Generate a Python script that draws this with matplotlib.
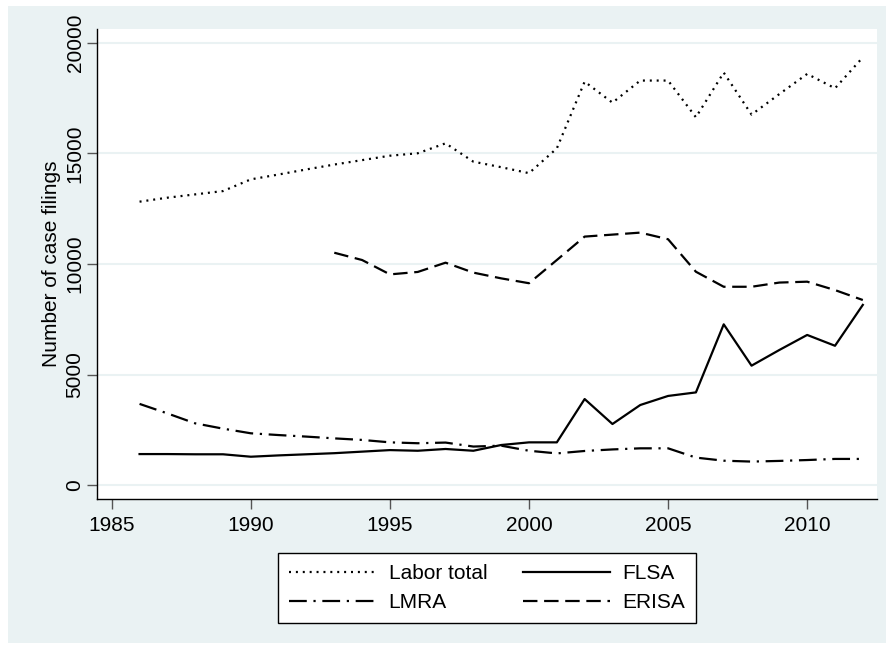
import matplotlib
matplotlib.use("Agg")
import matplotlib.pyplot as plt
from matplotlib.patches import Rectangle

plt.rcParams['font.family'] = ['Liberation Sans', 'DejaVu Sans']

# Años y series
years = list(range(1986, 2013))
labor_total = [12820, 13000, 13150, 13300, 13830, 14050, 14280, 14500, 14700,
               14900, 15010, 15460, 14630, 14380, 14110, 15230, 18250, 17300,
               18300, 18300, 16640, 18660, 16760, 17690, 18600, 17950, 19350]
flsa = [1400, 1400, 1390, 1390, 1280, 1340, 1390, 1440, 1510,
        1580, 1550, 1630, 1550, 1810, 1930, 1930, 3890, 2760,
        3620, 4030, 4190, 7270, 5400, 6110, 6790, 6300, 8150]
lmra = [3670, 3240, 2790, 2550, 2340, 2260, 2190, 2110, 2040,
        1930, 1890, 1920, 1740, 1780, 1550, 1430, 1540, 1610,
        1660, 1660, 1240, 1100, 1060, 1090, 1130, 1180, 1180]
erisa_years = list(range(1993, 2013))
erisa = [10510, 10180, 9530, 9640, 10060, 9610, 9350, 9130, 10180, 11240,
         11330, 11420, 11120, 9650, 8970, 8970, 9160, 9200, 8820, 8370]

x_ticks = [1985, 1990, 1995, 2000, 2005, 2010]
y_ticks = [0, 5000, 10000, 15000, 20000]

bg = '#EAF2F3'
W, H = 886, 647
fig = plt.figure(figsize=(W / 100, H / 100), dpi=100, facecolor='white')
fig.patches.append(Rectangle((8 / W, 0.006), 1 - 8 / W, 1 - 6 / H - 0.006,
                             transform=fig.transFigure, facecolor=bg,
                             edgecolor='none', zorder=-10))

ax = fig.add_axes([97 / W, (H - 499) / H, (877 - 97) / W, (499 - 29) / H])
ax.set_facecolor('white')

lw = 1.6
l_tot, = ax.plot(years, labor_total, color='black', lw=lw, ls=(0, (0.9, 2.2)),
                 label='Labor total')
l_flsa, = ax.plot(years, flsa, color='black', lw=lw, ls='-', label='FLSA')
l_lmra, = ax.plot(years, lmra, color='black', lw=lw, ls=(0, (8, 3, 1, 3)),
                  label='LMRA')
l_erisa, = ax.plot(erisa_years, erisa, color='black', lw=lw, ls=(0, (6.5, 3)),
                   label='ERISA')

ax.set_xlim(1984.47, 2012.51)
ax.set_ylim(-633, 20633)
ax.set_xticks(x_ticks)
ax.set_yticks(y_ticks)
ax.set_yticklabels([str(v) for v in y_ticks], rotation=90, va='center')
ax.tick_params(axis='both', labelsize=15, length=7, width=1, color='#555555',
               direction='out')
ax.tick_params(axis='y', pad=2)
ax.tick_params(axis='x', pad=5)
ax.grid(axis='y', color=bg, lw=1.5)
ax.set_axisbelow(True)

for side in ['top', 'right']:
    ax.spines[side].set_visible(False)
for side in ['left', 'bottom']:
    ax.spines[side].set_color('black')
    ax.spines[side].set_linewidth(1)

ax.set_ylabel('Number of case filings', fontsize=15, labelpad=3)

# orden por columnas para que las filas queden: Labor total/FLSA, LMRA/ERISA
handles = [l_tot, l_lmra, l_flsa, l_erisa]
labels = [h.get_label() for h in handles]
leg = fig.legend(handles, labels, ncol=2, loc='center',
                 bbox_to_anchor=(487 / W, 1 - 588 / H), fontsize=15,
                 frameon=True, fancybox=False, framealpha=1, handlelength=4.2,
                 handletextpad=0.6, columnspacing=1.7, labelspacing=0.5,
                 borderpad=0.5)
leg.get_frame().set_edgecolor('black')
leg.get_frame().set_linewidth(1)
leg.get_frame().set_facecolor('white')

fig.savefig('out.png', dpi=100, facecolor='white')
